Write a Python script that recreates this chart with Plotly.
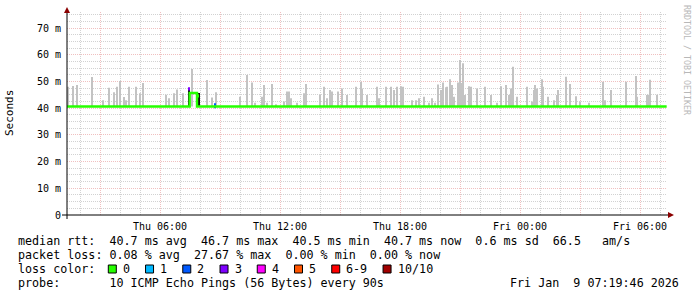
import plotly.graph_objects as go
from datetime import datetime, timedelta

# ---------------- data ----------------
DAY_DATES = {"Thu": "2026-01-08", "Fri": "2026-01-09"}

x_range = ["Thu 01:21", "Fri 07:21"]

# major grid (every 3 h) and labels (every 6 h)
major_ticks = ["Thu 03:00", "Thu 06:00", "Thu 09:00", "Thu 12:00", "Thu 15:00",
               "Thu 18:00", "Thu 21:00", "Fri 00:00", "Fri 03:00", "Fri 06:00"]
major_labels = ["", "Thu 06:00", "", "Thu 12:00", "", "Thu 18:00", "", "Fri 00:00", "", "Fri 06:00"]

y_ticks = [0, 10, 20, 30, 40, 50, 60, 70]
y_labels = ["0", "10 m", "20 m", "30 m", "40 m", "50 m", "60 m", "70 m"]

# smoke (spread of the 10 pings) : time, top in ms
smoke_times = [
    "Thu 01:24", "Thu 01:39", "Thu 01:51", "Thu 02:36", "Thu 03:09", "Thu 03:27", "Thu 03:42",
    "Thu 03:51", "Thu 04:00", "Thu 04:12", "Thu 04:18", "Thu 04:27", "Thu 04:48", "Thu 05:00",
    "Thu 05:09", "Thu 06:18", "Thu 06:27", "Thu 06:42", "Thu 06:51", "Thu 07:09", "Thu 07:36",
    "Thu 08:21", "Thu 08:36", "Thu 08:48", "Thu 10:00", "Thu 10:21", "Thu 10:36", "Thu 10:45",
    "Thu 11:06", "Thu 11:12", "Thu 11:21", "Thu 11:36", "Thu 11:48", "Thu 12:12", "Thu 12:21",
    "Thu 12:27", "Thu 12:33", "Thu 12:51", "Thu 13:12", "Thu 13:18", "Thu 14:00", "Thu 14:12",
    "Thu 14:21", "Thu 14:30", "Thu 14:36", "Thu 14:54", "Thu 15:06", "Thu 15:21", "Thu 15:48",
    "Thu 16:03", "Thu 16:06", "Thu 16:21", "Thu 16:51", "Thu 16:57", "Thu 17:18", "Thu 17:33",
    "Thu 17:42", "Thu 17:51", "Thu 18:03", "Thu 18:09", "Thu 18:36", "Thu 18:48", "Thu 18:57",
    "Thu 19:12", "Thu 19:27", "Thu 19:36", "Thu 19:45", "Thu 19:54", "Thu 20:03", "Thu 20:09",
    "Thu 20:18", "Thu 20:21", "Thu 20:30", "Thu 20:36", "Thu 20:42", "Thu 20:54", "Thu 21:00",
    "Thu 21:03", "Thu 21:09", "Thu 21:15", "Thu 21:27", "Thu 21:33", "Thu 21:51", "Thu 22:15",
    "Thu 22:33", "Thu 22:51", "Thu 23:03", "Thu 23:18", "Thu 23:27", "Thu 23:33", "Thu 23:39",
    "Thu 23:51", "Fri 00:21", "Fri 00:36", "Fri 00:42", "Fri 00:45", "Fri 00:51", "Fri 01:06",
    "Fri 01:09", "Fri 01:24", "Fri 01:42", "Fri 01:51", "Fri 01:54", "Fri 02:18", "Fri 02:30",
    "Fri 02:48", "Fri 03:00", "Fri 03:27", "Fri 04:09", "Fri 04:15", "Fri 04:33", "Fri 05:18",
    "Fri 05:48", "Fri 05:51", "Fri 06:21", "Fri 06:24", "Fri 06:30", "Fri 06:51",
]
smoke_max_ms = [
    48.0, 48.3, 48.7, 51.7, 43.0, 47.6, 46.0,
    48.0, 50.2, 44.2, 43.0, 48.0, 48.0, 45.6,
    49.4, 45.0, 43.7, 45.6, 47.0, 45.6, 54.7,
    50.5, 44.0, 46.0, 44.3, 52.4, 49.6, 42.0,
    44.3, 48.7, 42.0, 49.0, 41.5, 42.5, 46.2,
    46.2, 43.7, 42.0, 45.6, 49.0, 44.9, 48.0,
    43.7, 46.8, 46.2, 46.2, 47.4, 44.9, 48.0,
    49.9, 47.4, 44.9, 48.0, 43.7, 48.0, 48.0,
    46.8, 48.0, 48.2, 48.0, 43.0, 43.0, 43.7,
    44.3, 42.0, 43.7, 42.0, 48.9, 46.8, 49.6,
    47.8, 48.0, 50.8, 48.7, 44.3, 49.6, 58.0,
    49.4, 56.8, 44.9, 48.2, 48.0, 47.4, 48.0,
    44.9, 42.0, 48.2, 48.7, 44.9, 47.4, 55.5,
    44.3, 48.0, 42.5, 46.8, 48.7, 47.4, 50.8,
    48.0, 44.3, 43.0, 44.9, 46.8, 51.8, 49.0,
    44.5, 42.5, 42.0, 49.9, 43.0, 46.8, 49.9,
    52.0, 44.3, 44.9, 45.0, 50.6, 45.0,
]
smoke_min_ms = 40.6

# dark smoke (tightly grouped pings during the level change)
dark_times = ["Thu 07:27", "Thu 07:51", "Thu 07:57"]
dark_low_ms = [40.6, 40.6, 40.6]
dark_high_ms = [47.5, 45.7, 45.7]

# median rtt (step line, 0 loss)
median_times = ["Thu 01:21", "Thu 07:29", "Thu 07:51", "Fri 07:20"]
median_ms = [40.6, 45.7, 40.6, 40.6]

# median segments coloured by packet loss (index into loss colours)
lossmark_times = ["Thu 07:27", "Thu 07:54", "Thu 08:45"]
lossmark_low_ms = [46.6, 44.0, 40.0]
lossmark_high_ms = [47.8, 45.2, 41.8]
lossmark_level = [3, 0, 2]

loss_labels = ["0", "1", "2", "3", "4", "5", "6-9", "10/10"]
loss_colors = ["#26ff00", "#00b8ff", "#0059ff", "#7e00ff", "#ff00ff", "#ff5500", "#ff0000", "#a10000"]

rtt_stats = [40.7, 46.7, 40.5, 40.7]   # avg max min now (ms)
rtt_sd = 0.6
am_per_s = 66.5
loss_stats = [0.08, 27.67, 0.00, 0.00]  # avg max min now (%)
probe_text = "10 ICMP Echo Pings (56 Bytes) every 90s"
stamp_text = "Fri Jan  9 07:19:46 2026"


def ts(s):
    d, hm = s.split()
    return f"{DAY_DATES[d]} {hm}:00"


# ---------------- geometry (pixels) ----------------
W, H = 697, 297
L, R, T, B = 67, 667, 12, 215
Y_MAX = 76.0
MONO = "DejaVu Sans Mono"
PX_MS = 180000  # one pixel = 3 minutes

# minor grid positions (hourly / 2.5 ms, skipping the major ones)
t0 = datetime(2026, 1, 8, 2, 0)
minor_x = []
for h in range(0, 30):
    t = t0 + timedelta(hours=h)
    if t.hour % 3 != 0:
        minor_x.append(t.strftime("%Y-%m-%d %H:%M:%S"))
minor_y = [k * 2.5 for k in range(1, 31) if k % 4 != 0]


def px(x):
    return (x - L) / (R - L)


def py(y):
    return (B - y) / (B - T)


fig = go.Figure()

# invisible trace that carries the minor-grid axes
fig.add_trace(go.Scatter(x=[ts(x_range[0])], y=[0], xaxis="x2", yaxis="y2",
                         mode="markers", marker=dict(opacity=0), hoverinfo="skip"))

fig.add_trace(go.Bar(
    x=[ts(t) for t in smoke_times],
    y=[v - smoke_min_ms for v in smoke_max_ms],
    base=smoke_min_ms,
    width=PX_MS * 1.0,
    marker=dict(color="rgb(195,195,195)", line=dict(width=0)),
    hoverinfo="skip",
))

fig.add_trace(go.Scatter(
    x=[ts(t) for t in median_times], y=median_ms,
    mode="lines", line=dict(color=loss_colors[0], width=2.4, shape="hv"),
    hoverinfo="skip",
))

fig.add_trace(go.Bar(
    x=[ts(t) for t in dark_times],
    y=[h - l for h, l in zip(dark_high_ms, dark_low_ms)],
    base=dark_low_ms,
    width=PX_MS * 1.1,
    marker=dict(color="#101010", line=dict(width=0)),
    hoverinfo="skip",
))

fig.add_trace(go.Bar(
    x=[ts(t) for t in lossmark_times],
    y=[h - l for h, l in zip(lossmark_high_ms, lossmark_low_ms)],
    base=lossmark_low_ms,
    width=PX_MS * 1.3,
    marker=dict(color=[loss_colors[i] for i in lossmark_level], line=dict(width=0)),
    hoverinfo="skip",
))

grid_major = "rgba(225,130,130,0.5)"
grid_minor = "rgba(180,180,180,0.6)"
DASH = "1px,1px"

fig.update_layout(
    width=W, height=H,
    margin=dict(l=L, r=W - R, t=T, b=H - B, pad=0),
    paper_bgcolor="white", plot_bgcolor="white",
    showlegend=False, barmode="overlay",
    font=dict(family=MONO, size=10, color="black"),
    xaxis=dict(
        type="date", range=[ts(x_range[0]), ts(x_range[1])],
        tickmode="array", tickvals=[ts(t) for t in major_ticks], ticktext=major_labels,
        showgrid=True, gridcolor=grid_major, griddash=DASH, gridwidth=1,
        ticks="", showline=False, zeroline=False, ticklabelstandoff=4,
        tickfont=dict(family=MONO, size=10, color="black"),
        fixedrange=True,
    ),
    yaxis=dict(
        range=[0, Y_MAX],
        tickmode="array", tickvals=y_ticks, ticktext=y_labels,
        showgrid=True, gridcolor=grid_major, griddash=DASH, gridwidth=1,
        ticks="", showline=False, zeroline=False, ticklabelstandoff=5,
        tickfont=dict(family=MONO, size=10, color="black"),
        fixedrange=True,
    ),
    xaxis2=dict(
        type="date", range=[ts(x_range[0]), ts(x_range[1])], overlaying="x",
        tickmode="array", tickvals=minor_x, showticklabels=False, ticks="",
        showgrid=True, gridcolor=grid_minor, griddash=DASH, gridwidth=1,
        showline=False, zeroline=False, fixedrange=True,
    ),
    yaxis2=dict(
        range=[0, Y_MAX], overlaying="y",
        tickmode="array", tickvals=minor_y, showticklabels=False, ticks="",
        showgrid=True, gridcolor=grid_minor, griddash=DASH, gridwidth=1,
        showline=False, zeroline=False, fixedrange=True,
    ),
)

# axis lines and arrows
shapes = [
    dict(type="line", xref="paper", yref="paper", x0=px(62), x1=px(668), y0=py(B), y1=py(B),
         line=dict(color="black", width=1)),
    dict(type="line", xref="paper", yref="paper", x0=px(L), x1=px(L), y0=py(219), y1=py(13),
         line=dict(color="black", width=1)),
    dict(type="path", xref="paper", yref="paper",
         path=f"M {px(674)} {py(B)} L {px(668)} {py(B-3)} L {px(668)} {py(B+3)} Z",
         fillcolor="#8b0000", line=dict(width=0)),
    dict(type="path", xref="paper", yref="paper",
         path=f"M {px(L)} {py(7)} L {px(L-3)} {py(13)} L {px(L+3)} {py(13)} Z",
         fillcolor="#8b0000", line=dict(width=0)),
]

NB = "\u00a0"


def nb(s):
    return s.replace(" ", NB)


annos = []


def text(x, y, s, size=11.7, anchor="left", color="black", angle=0):
    annos.append(dict(x=px(x), y=py(y), xref="paper", yref="paper", text=nb(s),
                      showarrow=False, xanchor=anchor, yanchor="middle", textangle=angle,
                      font=dict(family=MONO, size=size, color=color)))


text(10, 113, "Seconds", size=11, anchor="center", angle=-90)
text(687, 60, "RRDTOOL / TOBI OETIKER", size=8.3, anchor="center", color="#b8b8b8", angle=90)

row1 = (f"median rtt:  {rtt_stats[0]:.1f} ms avg  {rtt_stats[1]:.1f} ms max  "
        f"{rtt_stats[2]:.1f} ms min  {rtt_stats[3]:.1f} ms now  {rtt_sd:.1f} ms sd  {am_per_s:.1f}   am/s")
row2 = (f"packet loss: {loss_stats[0]:.2f} % avg  {loss_stats[1]:.2f} % max  "
        f"{loss_stats[2]:.2f} % min  {loss_stats[3]:.2f} % now")
text(16, 241, row1)
text(16, 255, row2)
text(16, 269, "loss color:")
text(16, 283, "probe:       " + probe_text)
text(681, 283, stamp_text, anchor="right")

# loss colour legend boxes
sx = 108.3
for lab, col in zip(loss_labels, loss_colors):
    shapes.append(dict(type="rect", xref="paper", yref="paper",
                       x0=px(sx), x1=px(sx + 8), y0=py(273), y1=py(265),
                       fillcolor=col, line=dict(color="black", width=1)))
    text(sx + 12.5, 269, lab)
    sx += 12.5 + 7.04 * len(lab) + 17.7

fig.update_layout(shapes=shapes, annotations=annos)

fig.write_html("out.html")
